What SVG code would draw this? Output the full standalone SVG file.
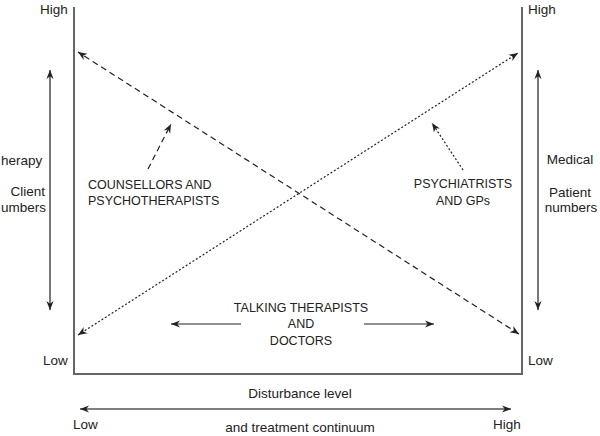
<svg xmlns="http://www.w3.org/2000/svg" width="600" height="436" viewBox="0 0 600 436">
<style>
text{font-family:"Liberation Sans",Arial,sans-serif;fill:#222}
.lab{font-size:13.5px}
.cap{font-size:12.5px}
.axis{stroke:#666;stroke-width:2;fill:none}
.gar{stroke:#555;stroke-width:1.6;fill:none}
.dk{stroke:#222;stroke-width:1.2;fill:none}
</style>
<defs>
<marker id="ah" viewBox="0 0 10 10" refX="10" refY="5" markerWidth="9" markerHeight="9" markerUnits="userSpaceOnUse" orient="auto-start-reverse">
<path d="M0,1 L10,5 L0,9 L3,5 Z" fill="#222"/>
</marker>
</defs>
<g id="axes">
<path class="axis" d="M74,7 V374 H522 V7"/>
</g>
<g id="connectors">
<line class="gar" x1="50" y1="70" x2="50" y2="310" marker-start="url(#ah)" marker-end="url(#ah)"/>
<line class="gar" x1="538" y1="70" x2="538" y2="310" marker-start="url(#ah)" marker-end="url(#ah)"/>
<line class="gar" x1="80" y1="409" x2="511" y2="409" marker-start="url(#ah)" marker-end="url(#ah)"/>
<line class="dk" x1="519" y1="334" x2="78" y2="52" stroke-dasharray="6,4" marker-start="url(#ah)" marker-end="url(#ah)"/>
<line class="dk" x1="78" y1="335" x2="518" y2="53" stroke-dasharray="2,2" marker-start="url(#ah)" marker-end="url(#ah)"/>
<line class="dk" x1="148" y1="169" x2="171" y2="124" stroke-dasharray="6,4" marker-end="url(#ah)"/>
<line class="dk" x1="463" y1="170" x2="432" y2="123" stroke-dasharray="2,2" marker-end="url(#ah)"/>
<line class="dk" x1="241" y1="324" x2="171" y2="324" marker-end="url(#ah)"/>
<line class="dk" x1="364" y1="324" x2="434" y2="324" marker-end="url(#ah)"/>
</g>
<g id="left-labels">
<text class="lab" x="40" y="14">High</text>
<text class="lab" x="43" y="365">Low</text>
<text class="lab" x="1" y="165">herapy</text>
<text class="lab" x="45" y="196" text-anchor="end">Client</text>
<text class="lab" x="1" y="212">umbers</text>
</g>
<g id="right-labels">
<text class="lab" x="528" y="14">High</text>
<text class="lab" x="528" y="365">Low</text>
<text class="lab" x="570" y="164" text-anchor="middle">Medical</text>
<text class="lab" x="570" y="197" text-anchor="middle">Patient</text>
<text class="lab" x="571" y="212" text-anchor="middle">numbers</text>
</g>
<g id="counsellors">
<text class="cap" x="88" y="189">COUNSELLORS AND</text>
<text class="cap" x="88" y="205">PSYCHOTHERAPISTS</text>
</g>
<g id="psychiatrists">
<text class="cap" x="463" y="188" text-anchor="middle">PSYCHIATRISTS</text>
<text class="cap" x="463" y="205" text-anchor="middle">AND GPs</text>
</g>
<g id="talking">
<text class="cap" x="301" y="312" text-anchor="middle">TALKING THERAPISTS</text>
<text class="cap" x="301" y="328" text-anchor="middle">AND</text>
<text class="cap" x="301" y="345" text-anchor="middle">DOCTORS</text>
</g>
<g id="bottom-labels">
<text class="lab" x="300" y="398" text-anchor="middle">Disturbance level</text>
<text class="lab" x="300" y="432" text-anchor="middle">and treatment continuum</text>
<text class="lab" x="73" y="429">Low</text>
<text class="lab" x="493" y="429">High</text>
</g>
</svg>
